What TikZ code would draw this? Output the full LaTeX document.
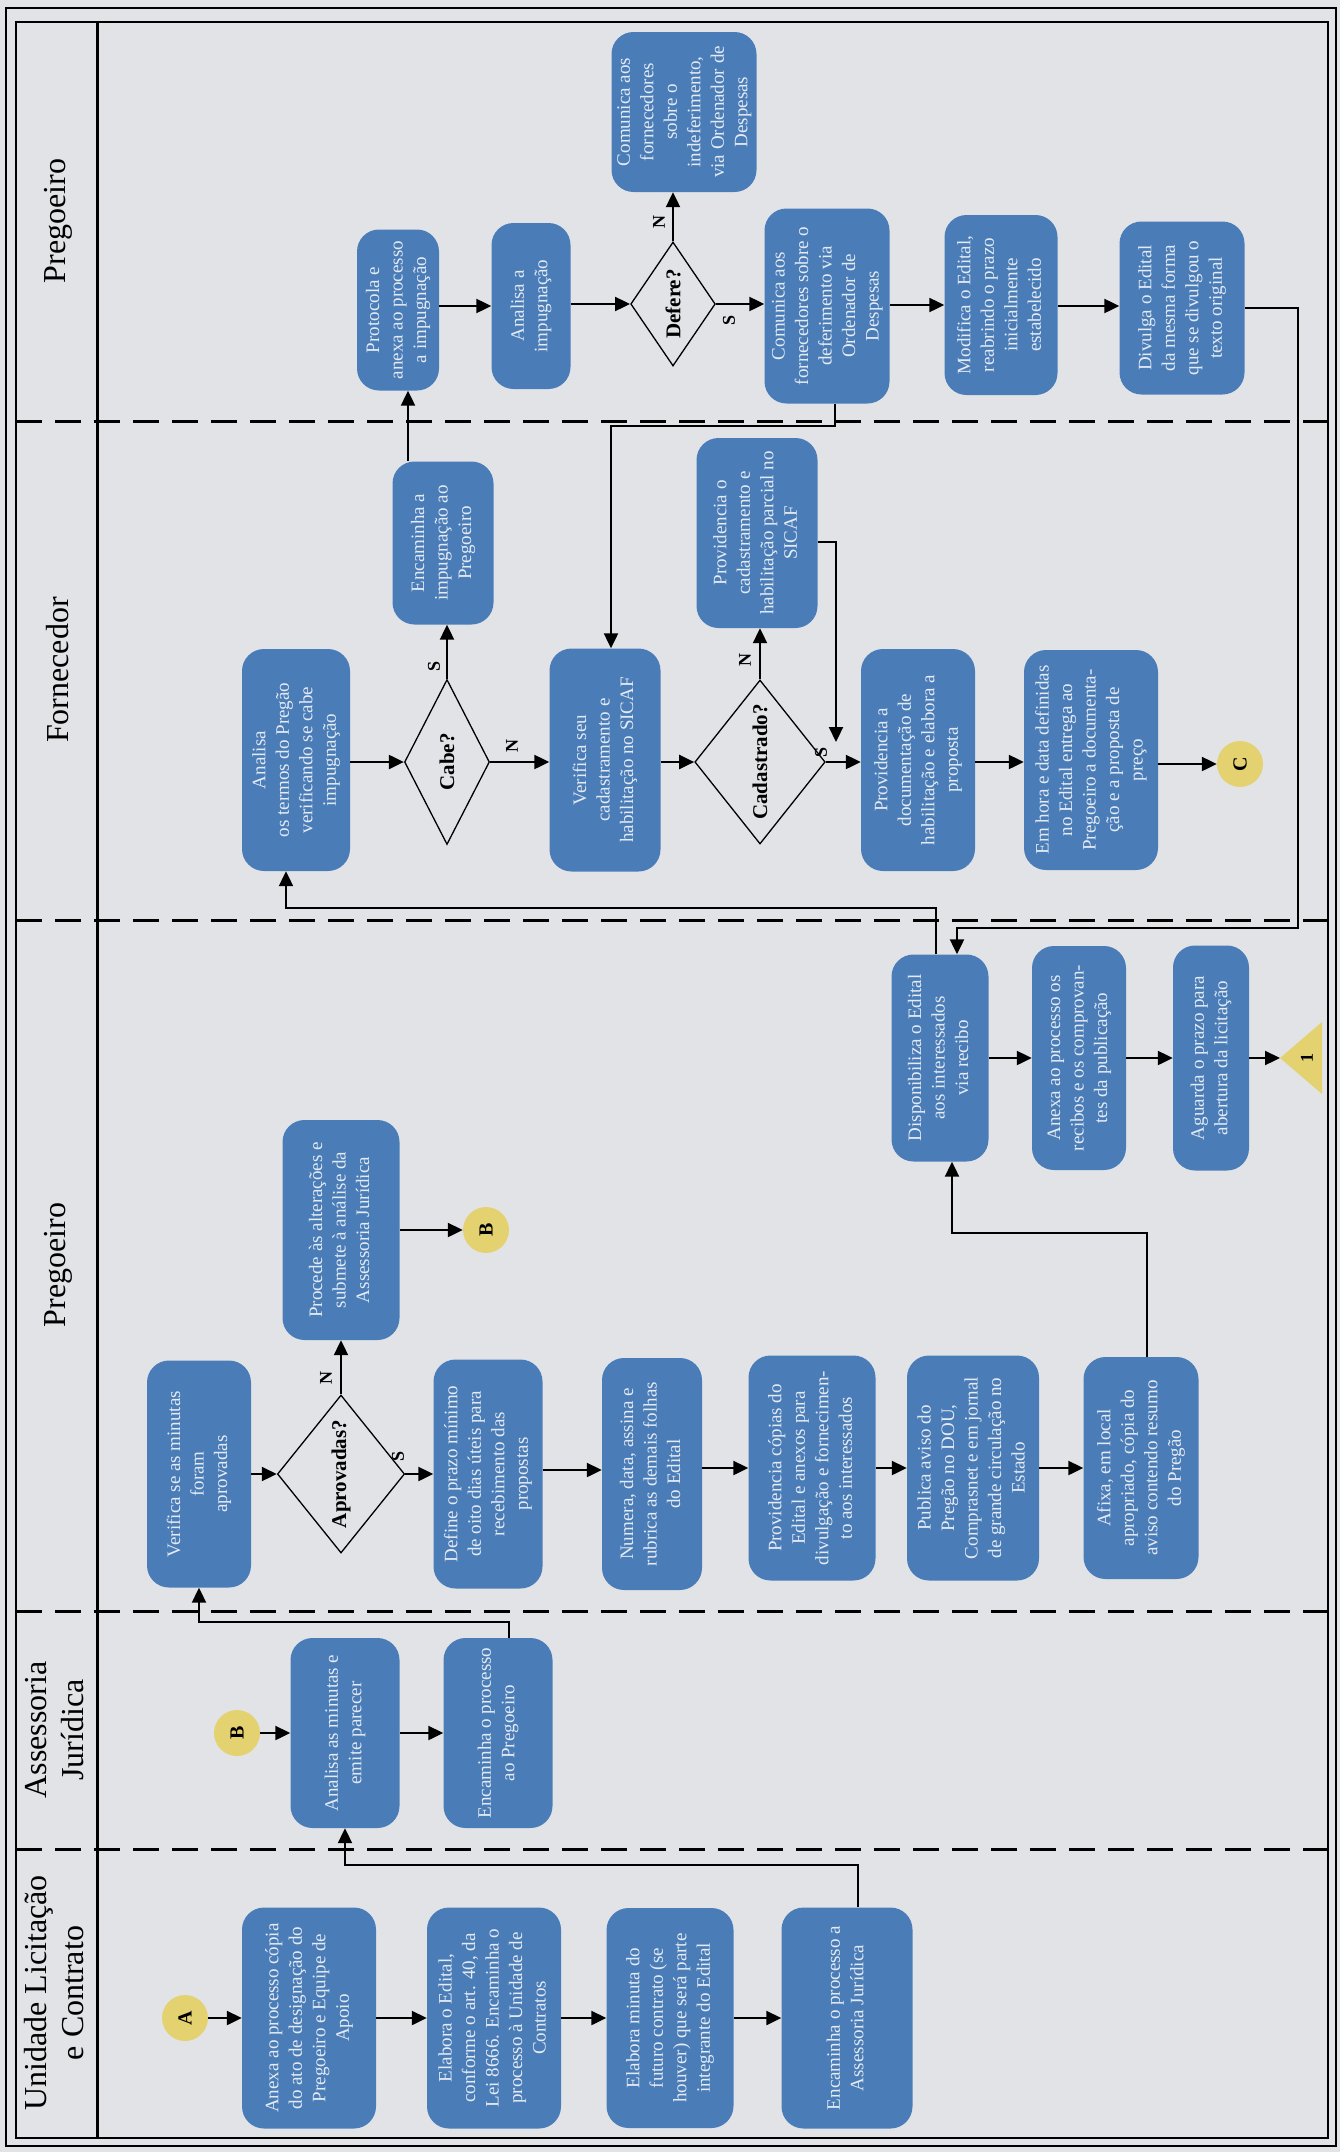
\documentclass[tikz,border=0pt]{standalone}
\usepackage{fontspec}
\setmainfont{Liberation Serif}
\usetikzlibrary{shapes.geometric,arrows.meta}
\definecolor{bx}{RGB}{74,125,184}
\definecolor{yel}{RGB}{228,210,112}
\definecolor{bg}{RGB}{226,227,231}
\definecolor{tx}{RGB}{228,234,243}
\newcommand{\rt}[1]{\rotatebox{90}{\begin{tabular}{@{}c@{}}#1\end{tabular}}}
\tikzset{
 blk/.style={rectangle, rounded corners=22pt, fill=bx, text=tx, inner sep=0pt, font=\fontsize{19}{23.5}\selectfont},
 dec/.style={diamond, draw=black, line width=1.3pt, inner sep=0pt, font=\bfseries\fontsize{21}{24}\selectfont},
 con/.style={circle, fill=yel, minimum size=46pt, inner sep=0pt, font=\bfseries\fontsize{20}{24}\selectfont},
 arr/.style={line width=2.2pt, -{Triangle[length=15pt,width=14pt]}},
 lbl/.style={font=\bfseries\fontsize{18}{20}\selectfont, inner sep=0pt},
 lane/.style={dash pattern=on 26pt off 13pt, line width=3pt},
 hdr/.style={font=\fontsize{32}{37}\selectfont, inner sep=0pt}
}
\begin{document}
\begin{tikzpicture}[x=1pt,y=-1pt]
\useasboundingbox (0,0) rectangle (1340,2152);
\fill[bg] (0,0) rectangle (1340,2152);
% frame
\draw[line width=1.2pt] (6,8) rectangle (1336,2146);
\draw[line width=1.6pt] (16,22) rectangle (1328,2138);
\draw[line width=3pt] (97,22) -- (97,2138);
\draw[lane] (16,421) -- (1328,421);
\draw[lane] (16,920) -- (1328,920);
\draw[lane] (16,1611) -- (1328,1611);
\draw[lane] (16,1849) -- (1328,1849);
% headers
\node[hdr] (hU) at (58,1993) {\rt{Unidade Licitação\\e Contrato}};
\node[hdr] (hJ) at (58,1730) {\rt{Assessoria\\Jurídica}};
\node[hdr] (hP) at (58,1265) {\rotatebox{90}{Pregoeiro}};
\node[hdr] (hF) at (58,670) {\rotatebox{90}{Fornecedor}};
\node[hdr] (hT) at (58,221) {\rotatebox{90}{Pregoeiro}};

% Unidade
\node[con] (A) at (185,2018) {\rotatebox{90}{A}};
\node[blk,minimum width=134pt,minimum height=221pt] (U1) at (309,2018) {\rt{Anexa ao processo cópia\\do ato de designação do\\Pregoeiro e Equipe de\\Apoio}};
\node[blk,minimum width=134pt,minimum height=221pt] (U2) at (494,2018) {\rt{Elabora o Edital,\\conforme o art. 40, da\\Lei 8666. Encaminha o\\processo à Unidade de\\Contratos}};
\node[blk,minimum width=127pt,minimum height=220pt] (U3) at (670,2018) {\rt{Elabora minuta do\\futuro contrato (se\\houver) que será parte\\integrante do Edital}};
\node[blk,minimum width=131pt,minimum height=221pt] (U4) at (847,2018) {\rt{Encaminha o processo a\\Assessoria Jurídica}};

% Assessoria
\node[con] (B) at (237,1733) {\rotatebox{90}{B}};
\node[blk,minimum width=109pt,minimum height=190pt] (J1) at (345,1733) {\rt{Analisa as minutas e\\emite parecer}};
\node[blk,minimum width=109pt,minimum height=190pt] (J2) at (498,1733) {\rt{Encaminha o processo\\ao Pregoeiro}};

% Pregoeiro
\node[blk,minimum width=104pt,minimum height=227pt] (P1) at (199,1474) {\rt{Verifica se as minutas\\foram\\aprovadas}};
\node[dec,minimum width=80pt,minimum height=158pt] (D1) at (341,1474) {\rotatebox{90}{Aprovadas?}};
\node[blk,minimum width=109pt,minimum height=229pt] (P3) at (488,1474) {\rt{Define o prazo mínimo\\de oito dias úteis para\\recebimento das\\propostas}};
\node[blk,minimum width=100pt,minimum height=232pt] (P4) at (652,1474) {\rt{Numera, data, assina e\\rubrica as demais folhas\\do Edital}};
\node[blk,minimum width=127pt,minimum height=225pt] (P5) at (812,1468) {\rt{Providencia cópias do\\Edital e anexos para\\divulgação e fornecimen-\\to aos interessados}};
\node[blk,minimum width=132pt,minimum height=225pt] (P6) at (973,1468) {\rt{Publica aviso do\\Pregão no DOU,\\Comprasnet e em jornal\\de grande circulação no\\Estado}};
\node[blk,minimum width=115pt,minimum height=222pt] (P7) at (1141,1468) {\rt{Afixa, em local\\apropriado, cópia do\\aviso contendo resumo\\do Pregão}};
\node[blk,minimum width=117pt,minimum height=220pt] (P2) at (341,1230) {\rt{Procede às alterações e\\submete à análise da\\Assessoria Jurídica}};
\node[con] (B2) at (486,1230) {\rotatebox{90}{B}};
\node[blk,minimum width=97pt,minimum height=207pt] (P8) at (940,1058) {\rt{Disponibiliza o Edital\\aos interessados\\via recibo}};
\node[blk,minimum width=94pt,minimum height=224pt] (P9) at (1079,1058) {\rt{Anexa ao processo os\\recibos e os comprovan-\\tes da publicação}};
\node[blk,minimum width=76pt,minimum height=225pt] (P10) at (1211,1058) {\rt{Aguarda o prazo para\\abertura da licitação}};
\coordinate (tri) at (1280,1058);
\fill[yel] (tri) -- (1322,1022) -- (1322,1094) -- cycle;
\node[lbl] (one) at (1307,1058) {\rotatebox{90}{1}};

% Fornecedor
\node[blk,minimum width=108pt,minimum height=222pt] (F1) at (296,760) {\rt{Analisa\\os termos do Pregão\\verificando se cabe\\impugnação}};
\node[dec,minimum width=85pt,minimum height=165pt] (D2) at (447,762) {\rotatebox{90}{Cabe?}};
\node[blk,minimum width=111pt,minimum height=223pt] (F3) at (605,760) {\rt{Verifica seu\\cadastramento e\\habilitação no SICAF}};
\node[dec,minimum width=83pt,minimum height=164pt] (D3) at (760,762) {\rotatebox{90}{Cadastrado?}};
\node[blk,minimum width=114pt,minimum height=222pt] (F5) at (918,760) {\rt{Providencia a\\documentação de\\habilitação e elabora a\\proposta}};
\node[blk,minimum width=134pt,minimum height=220pt] (F6) at (1091,760) {\rt{Em hora e data definidas\\no Edital entrega ao\\Pregoeiro a documenta-\\ção e a proposta de\\preço}};
\node[con] (C) at (1240,764) {\rotatebox{90}{C}};
\node[blk,minimum width=101pt,minimum height=163pt] (F2) at (443,543) {\rt{Encaminha a\\impugnação ao\\Pregoeiro}};
\node[blk,minimum width=121pt,minimum height=190pt] (F4) at (757,533) {\rt{Providencia o\\cadastramento e\\habilitação parcial no\\SICAF}};

% Pregoeiro (top)
\node[blk,minimum width=82pt,minimum height=161pt] (T1) at (398,310) {\rt{Protocola e\\anexa ao processo\\a impugnação}};
\node[blk,minimum width=79pt,minimum height=166pt] (T2) at (531,306) {\rt{Analisa a\\impugnação}};
\node[dec,minimum width=69pt,minimum height=124pt] (D4) at (673,304) {\rotatebox{90}{Defere?}};
\node[blk,minimum width=125pt,minimum height=195pt] (T4) at (827,306) {\rt{Comunica aos\\fornecedores sobre o\\deferimento via\\Ordenador de\\Despesas}};
\node[blk,minimum width=113pt,minimum height=180pt] (T5) at (1001,305) {\rt{Modifica o Edital,\\reabrindo o prazo\\inicialmente\\estabelecido}};
\node[blk,minimum width=125pt,minimum height=173pt] (T6) at (1182,308) {\rt{Divulga o Edital\\da mesma forma\\que se divulgou o\\texto original}};
\node[blk,minimum width=145pt,minimum height=160pt] (T3) at (684,112) {\rt{Comunica aos\\fornecedores\\sobre o\\indeferimento,\\via Ordenador de\\Despesas}};

% labels
\node[lbl] (lN1) at (326,1378) {\rotatebox{90}{N}};
\node[lbl] (lS1) at (398,1456) {\rotatebox{90}{S}};
\node[lbl] (lS2) at (434,666) {\rotatebox{90}{S}};
\node[lbl] (lN2) at (512,746) {\rotatebox{90}{N}};
\node[lbl] (lN3) at (745,660) {\rotatebox{90}{N}};
\node[lbl] (lS3) at (821,752) {\rotatebox{90}{S}};
\node[lbl] (lN4) at (659,222) {\rotatebox{90}{N}};
\node[lbl] (lS4) at (729,320) {\rotatebox{90}{S}};

% coordinates
\coordinate (k1) at (858,1865);
\coordinate (k2) at (509,1622);
\coordinate (k3) at (1147,1233);
\coordinate (k4) at (952,1233);
\coordinate (k5) at (936,908);
\coordinate (k6) at (286,908);
\coordinate (k7) at (1298,308);
\coordinate (k8) at (1298,928);
\coordinate (k9) at (957,928);
\coordinate (k10) at (836,542);
\coordinate (k11) at (836,742);
\coordinate (k12) at (408,0);
\coordinate (k13) at (835,426);
\coordinate (k14) at (611,426);

% connectors
\draw[arr] (A) -- (U1);
\draw[arr] (U1) -- (U2);
\draw[arr] (U2) -- (U3);
\draw[arr] (U3) -- (U4);
\draw[arr] (U4.north -| k1) -- (k1) -| (J1.south);
\draw[arr] (B) -- (J1);
\draw[arr] (J1) -- (J2);
\draw[arr] (J2.north -| k2) -- (k2) -| (P1.south);
\draw[arr] (P1) -- (D1);
\draw[arr] (D1.east) -- (D1.east -| P3.west);
\draw[arr] (D1.north) -- (D1.north |- P2.south);
\draw[arr] (P2) -- (B2);
\draw[arr] (P3.east |- 0,1470) -- (P4.west |- 0,1470);
\draw[arr] (P4.east |- 0,1468) -- (P5.west |- 0,1468);
\draw[arr] (P5) -- (P6);
\draw[arr] (P6) -- (P7);
\draw[arr] (P7.north -| k3) -- (k3) -- (k4) -- (k4 |- P8.south);
\draw[arr] (P8) -- (P9);
\draw[arr] (P9) -- (P10);
\draw[arr] (P10) -- (tri);
\draw[arr] (P8.north -| k5) -- (k5) -- (k6) -- (k6 |- F1.south);
\draw[arr] (T6.east) -- (k7) -- (k8) -- (k9) -- (k9 |- P8.north);
\draw[arr] (F1.east |- D2.west) -- (D2.west);
\draw[arr] (D2.east) -- (D2.east -| F3.west);
\draw[arr] (F3.east |- D3.west) -- (D3.west);
\draw[arr] (D3.east) -- (D3.east -| F5.west);
\draw[arr] (F5.east |- 0,762) -- (F6.west |- 0,762);
\draw[arr] (F6.east |- C) -- (C);
\draw[arr] (D2.north) -- (D2.north |- F2.south);
\draw[arr] (D3.north) -- (D3.north |- F4.south);
\draw[arr] (F4.east |- k10) -- (k10) -- (k11);
\draw[arr] (F2.north -| k12) -- (T1.south -| k12);
\draw[arr] (T1.east |- 0,306) -- (T2.west |- 0,306);
\draw[arr] (T2.east |- D4.west) -- (D4.west);
\draw[arr] (D4.east) -- (D4.east -| T4.west);
\draw[arr] (T4.east |- 0,305) -- (T5.west |- 0,305);
\draw[arr] (T5.east |- 0,306) -- (T6.west |- 0,306);
\draw[arr] (D4.north) -- (D4.north |- T3.south);
\draw[arr] (T4.south -| k13) -- (k13) -- (k14) -- (k14 |- F3.north);
\end{tikzpicture}
\end{document}
